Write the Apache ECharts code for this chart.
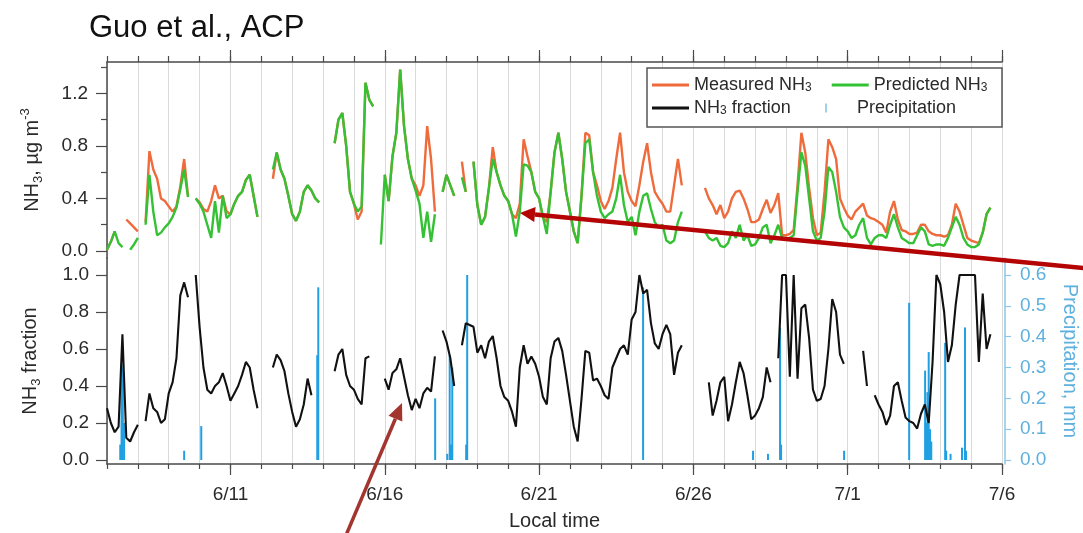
<!DOCTYPE html>
<html>
<head>
<meta charset="utf-8">
<script src="https://cdn.jsdelivr.net/npm/echarts@6/dist/echarts.min.js"></script>
<style>
  html, body { margin: 0; padding: 0; background: #ffffff; }
  #chart { width: 1083px; height: 533px; }
</style>
</head>
<body>
<div id="chart"></div>
<script>
// Time base: hours since 6/7 00:00, one value every 3 hours (8 per day).
const stepHours = 3;
const endHour = 696; // 7/6 00:00

const majorTickHours = [96, 216, 336, 456, 576, 696];
const majorTickLabels = ['6/11', '6/16', '6/21', '6/26', '7/1', '7/6'];

const nh3TickValues = [0, 0.4, 0.8, 1.2];
const nh3MinorTickValues = [0.2, 0.6, 1.0, 1.4];
const fractionTickValues = [0, 0.2, 0.4, 0.6, 0.8, 1.0];
const precipTickValues = [0, 0.1, 0.2, 0.3, 0.4, 0.5, 0.6];

// Measured NH3, ug m-3
const measuredNH3 = [
  0.01, 0.07, 0.15, null, null, 0.24, 0.21, 0.18,   // 6/7
  0.15, null, 0.22, 0.76, 0.62, 0.55, 0.40, 0.38,   // 6/8
  0.34, 0.30, 0.34, 0.49, 0.70, 0.42, null, 0.40,   // 6/9
  0.37, 0.32, 0.30, 0.38, 0.50, 0.40, 0.42, 0.30,   // 6/10
  0.28, 0.36, 0.42, 0.45, 0.54, 0.58, 0.42, 0.26,   // 6/11
  null, null, null, 0.55, 0.75, 0.62, 0.55, 0.42,   // 6/12
  0.28, 0.23, 0.30, 0.45, 0.50, 0.46, 0.40, 0.37,   // 6/13
  null, null, null, 0.82, 1.00, 1.05, 0.80, 0.45,   // 6/14
  0.36, 0.24, 0.30, 1.28, 1.15, 1.10, null, null,   // 6/15
  0.58, 0.38, 0.72, 0.90, 1.38, 0.95, 0.70, 0.55,   // 6/16
  0.50, 0.42, 0.50, 0.95, 0.70, 0.30, null, 0.45,   // 6/17
  0.58, 0.50, 0.42, null, 0.68, 0.45, null, 0.68,   // 6/18
  0.35, 0.20, 0.26, 0.48, 0.79, 0.60, 0.50, 0.42,   // 6/19
  0.38, 0.28, 0.25, 0.36, 0.85, 0.72, 0.60, 0.45,   // 6/20
  0.40, 0.26, 0.22, 0.45, 0.75, 0.90, 0.70, 0.45,   // 6/21
  0.30, 0.15, 0.06, 0.42, 0.90, 0.88, 0.60, 0.50,   // 6/22
  0.38, 0.32, 0.38, 0.48, 0.70, 0.90, 0.60, 0.45,   // 6/23
  0.38, 0.34, 0.50, 0.68, 0.82, 0.60, 0.45, 0.40,   // 6/24
  0.36, 0.30, 0.30, 0.50, 0.70, 0.50, null, null,   // 6/25
  null, null, null, 0.48, 0.40, 0.35, 0.28, 0.35,   // 6/26
  0.25, 0.30, 0.40, 0.45, 0.46, 0.40, 0.32, 0.22,   // 6/27
  0.22, 0.24, 0.32, 0.39, 0.29, 0.35, 0.44, 0.12,   // 6/28
  0.12, 0.13, 0.16, 0.50, 0.90, 0.75, 0.48, 0.25,   // 6/29
  0.12, 0.14, 0.45, 0.85, 0.79, 0.70, 0.40, 0.33,   // 6/30
  0.27, 0.24, 0.30, 0.33, 0.36, 0.27, 0.25, 0.24,   // 7/1
  0.22, 0.20, 0.14, 0.30, 0.38, 0.24, 0.16, 0.15,   // 7/2
  0.13, 0.13, 0.14, 0.20, 0.20, 0.15, 0.13, 0.12,   // 7/3
  0.12, 0.11, 0.12, 0.20, 0.36, 0.30, 0.20, 0.10,   // 7/4
  0.08, 0.07, 0.06, 0.14, 0.28, 0.33, null, null    // 7/5
];

// Predicted NH3, ug m-3
const predictedNH3 = [
  0.01, 0.07, 0.15, 0.06, 0.03, null, 0.01, 0.05,   // 6/7
  0.10, null, 0.20, 0.58, 0.30, 0.12, 0.14, 0.18,   // 6/8
  0.21, 0.26, 0.33, 0.47, 0.62, 0.41, null, 0.40,   // 6/9
  0.36, 0.30, 0.20, 0.10, 0.38, 0.14, 0.42, 0.25,   // 6/10
  0.28, 0.36, 0.42, 0.45, 0.54, 0.58, 0.42, 0.26,   // 6/11
  null, null, null, 0.62, 0.75, 0.62, 0.55, 0.42,   // 6/12
  0.28, 0.23, 0.30, 0.45, 0.50, 0.46, 0.40, 0.37,   // 6/13
  null, null, null, 0.82, 1.00, 1.05, 0.80, 0.45,   // 6/14
  0.36, 0.30, 0.34, 1.28, 1.15, 1.10, null, 0.05,   // 6/15
  0.58, 0.38, 0.72, 0.90, 1.38, 0.95, 0.70, 0.55,   // 6/16
  0.46, 0.36, 0.10, 0.30, 0.07, 0.28, null, 0.45,   // 6/17
  0.58, 0.50, 0.42, null, 0.56, 0.45, null, 0.68,   // 6/18
  0.35, 0.20, 0.26, 0.48, 0.70, 0.60, 0.50, 0.42,   // 6/19
  0.38, 0.28, 0.11, 0.30, 0.66, 0.65, 0.60, 0.45,   // 6/20
  0.40, 0.26, 0.13, 0.45, 0.75, 0.90, 0.70, 0.45,   // 6/21
  0.30, 0.15, 0.06, 0.42, 0.82, 0.85, 0.60, 0.42,   // 6/22
  0.30, 0.25, 0.28, 0.30, 0.40, 0.58, 0.35, 0.22,   // 6/23
  0.26, 0.12, 0.30, 0.42, 0.44, 0.32, 0.22, 0.18,   // 6/24
  0.20, 0.08, 0.06, 0.08, 0.22, 0.30, null, null,   // 6/25
  null, null, null, 0.15, 0.10, 0.08, 0.10, 0.04,   // 6/26
  0.03, 0.06, 0.15, 0.10, 0.20, 0.08, 0.12, 0.04,   // 6/27
  0.05, 0.10, 0.18, 0.20, 0.06, 0.12, 0.20, 0.10,   // 6/28
  0.09, 0.10, 0.12, 0.45, 0.75, 0.65, 0.40, 0.15,   // 6/29
  0.08, 0.10, 0.30, 0.64, 0.60, 0.45, 0.26, 0.18,   // 6/30
  0.15, 0.10, 0.12, 0.20, 0.25, 0.10, 0.05, 0.10,   // 7/1
  0.12, 0.12, 0.10, 0.20, 0.28, 0.18, 0.10, 0.08,   // 7/2
  0.06, 0.06, 0.12, 0.18, 0.15, 0.05, 0.04, 0.05,   // 7/3
  0.05, 0.04, 0.10, 0.18, 0.26, 0.20, 0.10, 0.05,   // 7/4
  0.03, 0.03, 0.05, 0.14, 0.28, 0.33, null, null    // 7/5
];

// NH3 / (NH3 + NH4+) fraction
const nh3Fraction = [
  0.28, 0.20, 0.15, 0.18, 0.68, 0.12, 0.10, 0.15,   // 6/7
  0.19, null, 0.21, 0.36, 0.28, 0.26, 0.20, 0.22,   // 6/8
  0.36, 0.42, 0.55, 0.89, 0.96, 0.88, null, 1.00,   // 6/9
  0.72, 0.50, 0.38, 0.36, 0.40, 0.42, 0.47, 0.40,   // 6/10
  0.32, 0.36, 0.40, 0.46, 0.53, 0.50, 0.38, 0.28,   // 6/11
  null, null, null, 0.50, 0.57, 0.54, 0.48, 0.36,   // 6/12
  0.26, 0.18, 0.22, 0.30, 0.44, 0.35, null, null,   // 6/13
  null, null, null, 0.48, 0.57, 0.60, 0.46, 0.40,   // 6/14
  0.38, 0.33, 0.30, 0.55, 0.56, null, null, null,   // 6/15
  0.44, 0.38, 0.47, 0.49, 0.55, 0.45, 0.35, 0.27,   // 6/16
  0.33, 0.28, 0.36, 0.39, 0.37, 0.56, null, 0.70,   // 6/17
  0.64, 0.55, 0.40, null, 0.62, 0.74, 0.73, 0.72,   // 6/18
  0.58, 0.62, 0.55, 0.64, 0.67, 0.55, 0.40, 0.34,   // 6/19
  0.32, 0.26, 0.18, 0.50, 0.62, 0.52, 0.56, 0.52,   // 6/20
  0.45, 0.34, 0.30, 0.55, 0.64, 0.66, 0.59, 0.46,   // 6/21
  0.32, 0.18, 0.10, 0.33, 0.59, 0.58, 0.43, 0.44,   // 6/22
  0.40, 0.35, 0.33, 0.50, 0.55, 0.60, 0.62, 0.57,   // 6/23
  0.76, 0.80, 1.00, 0.90, 0.92, 0.74, 0.63, 0.60,   // 6/24
  0.68, 0.73, 0.68, 0.46, 0.58, 0.62, null, null,   // 6/25
  null, null, null, null, 0.42, 0.24, 0.32, 0.42,   // 6/26
  0.45, 0.21, 0.30, 0.42, 0.53, 0.47, 0.35, 0.22,   // 6/27
  0.24, 0.28, 0.34, 0.50, 0.42, null, 0.55, 1.00,   // 6/28
  1.00, 0.45, 1.00, 0.44, 0.82, 0.84, 0.66, 0.38,   // 6/29
  0.32, 0.33, 0.40, 0.60, 0.87, 0.80, 0.57, 0.52,   // 6/30
  null, null, null, null, 0.59, 0.40, null, 0.35,   // 7/1
  0.30, 0.26, 0.19, 0.24, 0.40, 0.42, 0.32, 0.23,   // 7/2
  0.21, 0.20, 0.17, 0.25, 0.30, 0.20, 0.53, 1.00,   // 7/3
  0.95, 0.80, 0.53, 0.62, 0.84, 1.00, 1.00, 1.00,   // 7/4
  1.00, 1.00, 0.53, 0.90, 0.60, 0.68, null, null    // 7/5
];

// Precipitation events: hour since 6/7 00:00 and amount, mm
const precipHours = [10.3, 11.3, 12.3, 13.3, 60.0, 73.3, 163.5, 164.3, 255.2, 264.6, 266.5, 267.5, 268.5,
  279.3, 280.1, 416.9, 502.4, 514.0, 523.4, 524.2, 573.2, 623.8, 636.2, 637.0, 638.0, 639.0, 640.0,
  641.0, 651.8, 652.6, 656.0, 664.9, 667.2, 668.0];
const precipValues = [0.05, 0.31, 0.30, 0.12, 0.03, 0.11, 0.34, 0.56, 0.20, 0.02, 0.34, 0.05, 0.30,
  0.05, 0.60, 0.56, 0.03, 0.02, 0.43, 0.05, 0.03, 0.51, 0.29, 0.12, 0.22, 0.35, 0.10,
  0.06, 0.38, 0.03, 0.02, 0.04, 0.43, 0.03];

const FONT = '"Liberation Sans", Arial, Helvetica, sans-serif';
const TEXT = '#2a2a2a';
const AXIS = '#4a4a4a';
const GRID = '#dadada';
const RED = '#ef6b3b';
const GREEN = '#34c234';
const BLUE = '#20a0e2';
const BLUE_TEXT = '#5eb0de';

// Value ranges of the panels (slightly below zero so the zero line sits off the axis)
const topMin = -0.053, topMax = 1.438;
const lowMin = -0.0216, lowMax = 1.0919;
const precipMin = lowMin * 0.6, precipMax = lowMax * 0.6;

const toPairs = arr => arr.map((v, i) => [i * stepHours, v]);
const precipData = precipHours.map((h, i) => [h, precipValues[i]]);
const fmt1 = v => Number(v).toFixed(1);
const sub = s => s.replace('NH3', 'NH{sub|3}');

const richText = (size, color) => ({
  sub: { fontSize: Math.round(size * 0.65), lineHeight: 13, verticalAlign: 'bottom', fontFamily: FONT, color: color },
  sup: { fontSize: Math.round(size * 0.65), lineHeight: 13, verticalAlign: 'top', fontFamily: FONT, color: color },
  pad: { width: 25 }
});

const dayAxis = (gridIndex, position, tickLen) => ({
  gridIndex, type: 'value', position, min: 0, max: endHour, interval: 24,
  axisLine: { show: true, onZero: false, lineStyle: { color: AXIS, width: 1.5 } },
  axisTick: { show: true, length: tickLen, lineStyle: { color: AXIS, width: 1.2 } },
  axisLabel: { show: false },
  splitLine: { show: true, lineStyle: { color: GRID, width: 1 } }
});

const option = {
  animation: false,
  backgroundColor: '#ffffff',
  textStyle: { fontFamily: FONT },
  title: {
    text: 'Guo et al., ACP', left: 84, top: 8,
    textStyle: { fontSize: 31, fontWeight: 'normal', color: '#111', fontFamily: FONT }
  },
  grid: [
    { left: 107, right: 81, top: 62, height: 196, containLabel: false, outerBoundsMode: 'none' },
    { left: 107, right: 81, top: 258, bottom: 69, containLabel: false, outerBoundsMode: 'none' }
  ],
  xAxis: [
    dayAxis(0, 'top', 6),
    {
      gridIndex: 0, type: 'value', position: 'top', min: 0, max: endHour,
      axisLine: { show: false, onZero: false },
      axisTick: { show: true, length: 12, customValues: majorTickHours, lineStyle: { color: AXIS, width: 1.2 } },
      axisLabel: { show: false }, splitLine: { show: false }
    },
    dayAxis(1, 'bottom', 5),
    {
      gridIndex: 1, type: 'value', position: 'bottom', min: 0, max: endHour,
      axisLine: { show: false, onZero: false },
      axisTick: { show: true, length: 11, customValues: majorTickHours, lineStyle: { color: AXIS, width: 1.2 } },
      axisLabel: {
        show: true, customValues: majorTickHours, margin: 21, fontSize: 19, color: TEXT, fontFamily: FONT,
        showMinLabel: true, showMaxLabel: true,
        formatter: v => majorTickLabels[majorTickHours.indexOf(v)] || ''
      },
      splitLine: { show: false },
      name: 'Local time', nameLocation: 'middle', nameGap: 47,
      nameTextStyle: { fontSize: 20, color: TEXT, fontFamily: FONT }
    }
  ],
  yAxis: [
    {
      gridIndex: 0, type: 'value', position: 'left', min: topMin, max: topMax,
      axisLine: { show: true, onZero: false, lineStyle: { color: AXIS, width: 1.5 } },
      axisTick: { show: true, length: 11, customValues: nh3TickValues, lineStyle: { color: AXIS, width: 1.2 } },
      axisLabel: { customValues: nh3TickValues, formatter: fmt1, margin: 19, fontSize: 19, color: TEXT, fontFamily: FONT },
      splitLine: { show: false },
      name: 'NH{sub|3}, µg m{sup|-3}', nameLocation: 'middle', nameGap: 62, nameRotate: 90,
      nameTextStyle: { fontSize: 20, lineHeight: 26, color: TEXT, fontFamily: FONT, rich: richText(20, TEXT) }
    },
    {
      gridIndex: 0, type: 'value', position: 'left', min: topMin, max: topMax,
      axisLine: { show: false, onZero: false },
      axisTick: { show: true, length: 6, customValues: nh3MinorTickValues, lineStyle: { color: AXIS, width: 1.2 } },
      axisLabel: { show: false }, splitLine: { show: false }
    },
    {
      gridIndex: 1, type: 'value', position: 'left', min: lowMin, max: lowMax,
      axisLine: { show: true, onZero: false, lineStyle: { color: AXIS, width: 1.5 } },
      axisTick: { show: true, length: 11, customValues: fractionTickValues, lineStyle: { color: AXIS, width: 1.2 } },
      axisLabel: { customValues: fractionTickValues, formatter: fmt1, margin: 18, fontSize: 19, color: TEXT, fontFamily: FONT },
      splitLine: { show: false },
      name: 'NH{sub|3} fraction', nameLocation: 'middle', nameGap: 64, nameRotate: 90,
      nameTextStyle: { fontSize: 20, lineHeight: 26, color: TEXT, fontFamily: FONT, rich: richText(20, TEXT) }
    },
    {
      gridIndex: 1, type: 'value', position: 'right', offset: 3, min: precipMin, max: precipMax,
      axisLine: { show: true, onZero: false, lineStyle: { color: '#8cc6e8', width: 1.5 } },
      axisTick: { show: true, length: 6, customValues: precipTickValues, lineStyle: { color: '#8cc6e8', width: 1.2 } },
      axisLabel: { customValues: precipTickValues, formatter: fmt1, margin: 15, fontSize: 19, color: BLUE_TEXT, fontFamily: FONT },
      splitLine: { show: false },
      name: 'Precipitation, mm', nameLocation: 'middle', nameGap: 55, nameRotate: -90,
      nameTextStyle: { fontSize: 20, color: BLUE_TEXT, fontFamily: FONT }
    }
  ],
  legend: [
    {
      data: ['Measured NH3', 'Predicted NH3'], left: 652, top: 76, padding: 0, itemGap: 20,
      icon: 'rect', itemWidth: 37, itemHeight: 3, selectedMode: false,
      formatter: sub,
      textStyle: { fontSize: 18, color: TEXT, fontFamily: FONT, rich: richText(18, TEXT) }
    },
    {
      data: ['NH3 fraction'], left: 652, top: 99, padding: 0,
      icon: 'rect', itemWidth: 37, itemHeight: 3, selectedMode: false,
      formatter: sub,
      textStyle: { fontSize: 18, color: TEXT, fontFamily: FONT, rich: richText(18, TEXT) }
    },
    {
      data: [{ name: 'Precipitation', itemStyle: { color: '#9fd0ec' } }], left: 825, top: 99, padding: 0,
      icon: 'rect', itemWidth: 2, itemHeight: 9, selectedMode: false,
      formatter: n => '{pad|}' + n,
      textStyle: { fontSize: 18, color: TEXT, fontFamily: FONT, rich: richText(18, TEXT) }
    }
  ],
  graphic: [
    {
      type: 'rect', z: 3, shape: { x: 647, y: 68, width: 355, height: 59 },
      style: { fill: '#ffffff', stroke: '#555555', lineWidth: 1.5 }
    },
    // pointer into the upper panel
    { type: 'line', z: 20, shape: { x1: 1090, y1: 268.7, x2: 535, y2: 214.5 }, style: { stroke: '#b40404', lineWidth: 4.5 } },
    { type: 'polygon', z: 20, shape: { points: [[520, 213], [535.6, 207.0], [534.2, 222.0]] }, style: { fill: '#b40404' } },
    // pointer into the lower panel
    { type: 'line', z: 20, shape: { x1: 344, y1: 540, x2: 395.4, y2: 418.7 }, style: { stroke: '#a3352f', lineWidth: 3.5 } },
    { type: 'polygon', z: 20, shape: { points: [[402, 403], [402.3, 421.6], [388.5, 415.8]] }, style: { fill: '#a3352f' } }
  ],
  series: [
    {
      name: 'Measured NH3', type: 'line', xAxisIndex: 0, yAxisIndex: 0, data: toPairs(measuredNH3),
      showSymbol: false, connectNulls: false, z: 2,
      lineStyle: { color: RED, width: 2.4 }, itemStyle: { color: RED }
    },
    {
      name: 'Predicted NH3', type: 'line', xAxisIndex: 0, yAxisIndex: 0, data: toPairs(predictedNH3),
      showSymbol: false, connectNulls: false, z: 3,
      lineStyle: { color: GREEN, width: 2.4 }, itemStyle: { color: GREEN }
    },
    {
      name: 'Precipitation', type: 'bar', xAxisIndex: 2, yAxisIndex: 3, data: precipData,
      barWidth: 2, z: 2, itemStyle: { color: BLUE }
    },
    {
      name: 'NH3 fraction', type: 'line', xAxisIndex: 2, yAxisIndex: 2, data: toPairs(nh3Fraction),
      showSymbol: false, connectNulls: false, z: 3,
      lineStyle: { color: '#111111', width: 2.1 }, itemStyle: { color: '#111111' }
    }
  ]
};

const chart = echarts.init(document.getElementById('chart'), null, { renderer: 'canvas' });
chart.setOption(option);
</script>
</body>
</html>
